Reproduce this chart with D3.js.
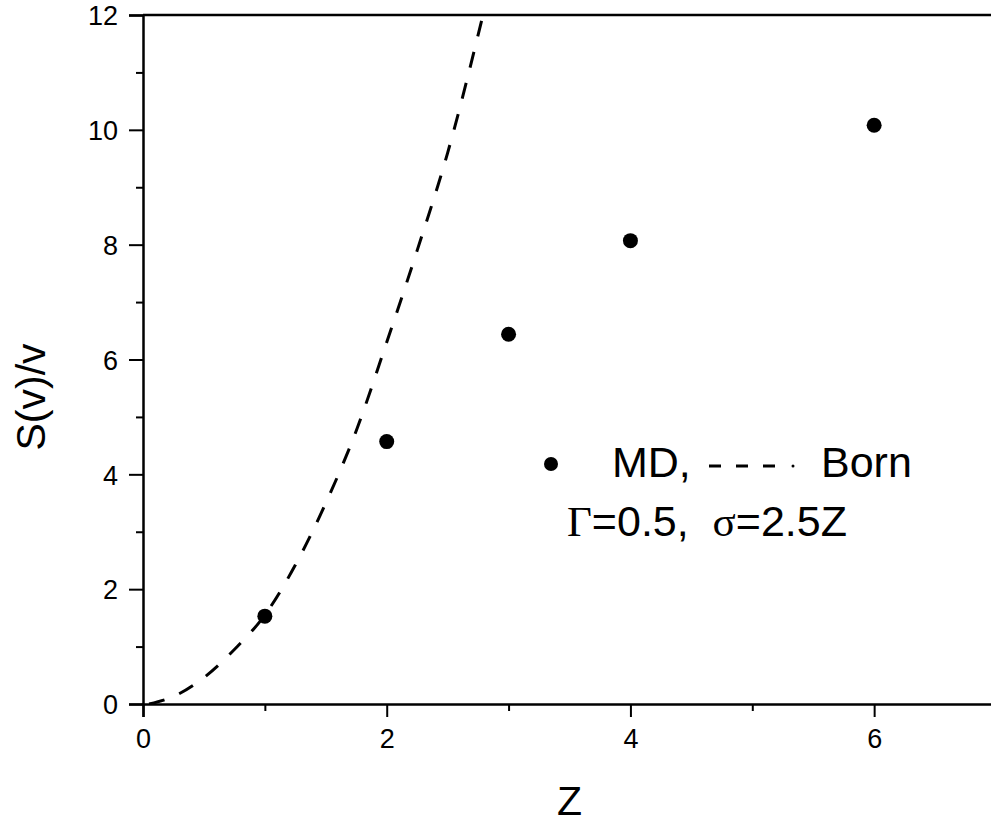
<!DOCTYPE html>
<html>
<head>
<meta charset="utf-8">
<script src="https://cdn.jsdelivr.net/npm/d3@7"></script>
<style>
  html, body { margin: 0; padding: 0; background: #fff; }
  svg { display: block; }
  text { font-family: Arial, "Liberation Sans", sans-serif; fill: #000; }
  .axis text { font-size: 27px; }
</style>
</head>
<body>
<svg id="chart" width="991" height="824"></svg>
<script>
// ---- data ----
const mdZ = [1, 2, 3, 4, 6];
const mdS = [1.53, 4.57, 6.44, 8.07, 10.08];

const bornZ = [0.05, 0.25, 0.5, 0.75, 1.0, 1.25, 1.5, 1.75, 2.0, 2.25, 2.5, 2.79];
const bornS = [0.0, 0.13, 0.46, 0.95, 1.55, 2.42, 3.5, 4.76, 6.3, 7.9, 9.6, 12.0];

const xTicks = [0, 2, 4, 6];
const xMinor = [1, 3, 5];
const yTicks = [0, 2, 4, 6, 8, 10, 12];
const yMinor = [1, 3, 5, 7, 9, 11];

const xLabel = "Z";
const yLabel = "S(v)/v";

// ---- layout ----
const mLeft = 143, mRight = 996, mTop = 15, mBottom = 704;
const svg = d3.select("#chart");

const x = d3.scaleLinear().domain([0, 7]).range([mLeft, mRight]);
const y = d3.scaleLinear().domain([0, 12]).range([mBottom, mTop]);

// frame (top and right)
svg.append("line").attr("x1", mLeft).attr("x2", mRight).attr("y1", mTop).attr("y2", mTop)
  .attr("stroke", "#000").attr("stroke-width", 2.5);
svg.append("line").attr("x1", mRight).attr("x2", mRight).attr("y1", mTop).attr("y2", mBottom)
  .attr("stroke", "#000").attr("stroke-width", 2.5);

// x axis
const xAxis = svg.append("g").attr("class", "axis").attr("transform", `translate(0,${mBottom})`)
  .call(d3.axisBottom(x).tickValues(xTicks).tickSize(13).tickPadding(12).tickFormat(d3.format("d")));
xAxis.attr("font-size", 27).attr("font-family", "Arial, 'Liberation Sans', sans-serif");
svg.append("g").attr("transform", `translate(0,${mBottom})`)
  .call(d3.axisBottom(x).tickValues(xMinor).tickSize(7).tickFormat(""))
  .call(g => g.select(".domain").remove());

// y axis
const yAxis = svg.append("g").attr("class", "axis").attr("transform", `translate(${mLeft},0)`)
  .call(d3.axisLeft(y).tickValues(yTicks).tickSize(14).tickPadding(11).tickFormat(d3.format("d")));
yAxis.attr("font-size", 27).attr("font-family", "Arial, 'Liberation Sans', sans-serif");
svg.append("g").attr("transform", `translate(${mLeft},0)`)
  .call(d3.axisLeft(y).tickValues(yMinor).tickSize(7).tickFormat(""))
  .call(g => g.select(".domain").remove());

svg.selectAll(".domain").attr("stroke", "#000").attr("stroke-width", 2.5);
svg.selectAll(".tick line").attr("stroke", "#000").attr("stroke-width", 2);
svg.selectAll(".axis .tick text").attr("font-size", 27).attr("fill", "#000");
yAxis.selectAll(".tick text").attr("dy", "0.36em");

// axis titles
svg.append("text").attr("x", (mLeft + mRight) / 2).attr("y", 815)
  .attr("text-anchor", "middle").style("font-size", "41px").text(xLabel);
svg.append("text").attr("transform", "translate(45,397) rotate(-90)")
  .attr("text-anchor", "middle").style("font-size", "41px").text(yLabel);

// clip for plot
svg.append("clipPath").attr("id", "plotclip").append("rect")
  .attr("x", mLeft).attr("y", mTop).attr("width", mRight - mLeft).attr("height", mBottom - mTop);

// Born curve
const bornData = bornZ.map((z, i) => [z, bornS[i]]);
const line = d3.line().x(d => x(d[0])).y(d => y(d[1])).curve(d3.curveMonotoneX);
svg.append("path").datum(bornData)
  .attr("clip-path", "url(#plotclip)")
  .attr("d", line).attr("fill", "none").attr("stroke", "#000")
  .attr("stroke-width", 3).attr("stroke-dasharray", "16,16");

// MD points
svg.selectAll(".md").data(mdZ.map((z, i) => [z, mdS[i]])).enter().append("circle")
  .attr("class", "md").attr("cx", d => x(d[0])).attr("cy", d => y(d[1])).attr("r", 7.5)
  .attr("fill", "#000");

// legend
const lg = svg.append("g");
lg.append("circle").attr("cx", 551).attr("cy", 464).attr("r", 7).attr("fill", "#000");
lg.append("text").attr("x", 612).attr("y", 477).style("font-size", "43px").text("MD,");
lg.append("line").attr("x1", 709).attr("x2", 776).attr("y1", 466).attr("y2", 466)
  .attr("stroke", "#000").attr("stroke-width", 3).attr("stroke-dasharray", "12,15");
lg.append("circle").attr("cx", 793).attr("cy", 466).attr("r", 1.5).attr("fill", "#000");
lg.append("text").attr("x", 821).attr("y", 477).style("font-size", "43px").text("Born");

const t2 = lg.append("text").attr("x", 567).attr("y", 536).style("font-size", "43px");
t2.append("tspan").style("font-family", "'Liberation Serif', 'Times New Roman', serif").text("Γ");
t2.append("tspan").text("=0.5,\u00A0\u00A0");
t2.append("tspan").style("font-family", "'Liberation Serif', 'Times New Roman', serif").text("σ");
t2.append("tspan").text("=2.5Z");
</script>
</body>
</html>
